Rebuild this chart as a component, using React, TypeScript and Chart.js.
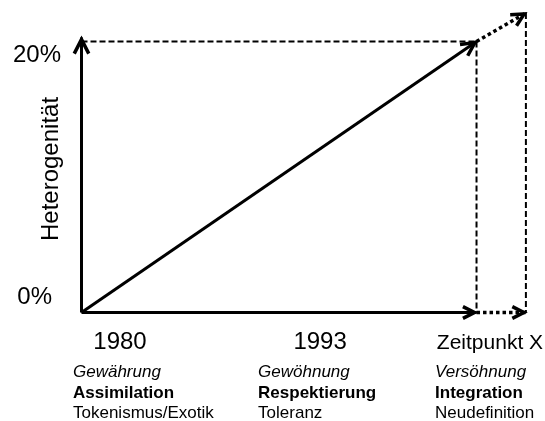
import React, { useEffect, useRef } from "react";
import { Chart, registerables } from "chart.js";

Chart.register(...registerables);

// ---- data ----
const yTickValues = [0, 20];
const yTickLabels = ["0%", "20%"];
const yAxisTitle = "Heterogenität";
const timeLabels = ["1980", "1993", "Zeitpunkt X"];
const phaseItalic = ["Gewährung", "Gewöhnung", "Versöhnung"];
const phaseBold = ["Assimilation", "Respektierung", "Integration"];
const phaseNormal = ["Tokenismus/Exotik", "Toleranz", "Neudefinition"];

// time axis (0 = origin, 1 = Zeitpunkt X, 1.125 = beyond)
const axisX = [0, 1];
const axisY = [0, 20.3];
const trendX = [0, 1];
const trendY = [0, 20];
const futureX = [1, 1.125];
const futureY = [20, 22.1];

// ---- layout (positions only) ----
const FONT = "'Liberation Sans', Arial, sans-serif";
const timeLabelX = [0.0975, 0.604, 1.034];
const timeLabelSize = [24, 24, 21];
const phaseLeftX = [-0.0215, 0.447, 0.895];

const pts = (xs: number[], ys: number[]) => xs.map((x, i) => ({ x, y: ys[i] }));

const arrowPlugin = {
  id: "arrows",
  afterDatasetsDraw(chart: any) {
    const ctx = chart.ctx;
    chart.data.datasets.forEach((ds: any, i: number) => {
      if (!ds.arrow) return;
      const meta = chart.getDatasetMeta(i);
      const d = meta.data;
      const a = d[d.length - 2];
      const b = d[d.length - 1];
      const ang = Math.atan2(b.y - a.y, b.x - a.x);
      const L = ds.arrowLen || 16;
      const spread = (27 * Math.PI) / 180;
      ctx.save();
      ctx.strokeStyle = "#000";
      ctx.lineWidth = 3.5;
      ctx.setLineDash([]);
      ctx.lineJoin = "miter";
      ctx.lineCap = "butt";
      const tipX = b.x - Math.cos(ang) * 2;
      const tipY = b.y - Math.sin(ang) * 2;
      ctx.beginPath();
      ctx.moveTo(tipX - L * Math.cos(ang - spread), tipY - L * Math.sin(ang - spread));
      ctx.lineTo(tipX, tipY);
      ctx.lineTo(tipX - L * Math.cos(ang + spread), tipY - L * Math.sin(ang + spread));
      ctx.stroke();
      ctx.restore();
    });
  },
  afterDraw(chart: any) {
    const ctx = chart.ctx;
    const xs = chart.scales.x;
    const ys = chart.scales.y;
    ctx.save();
    ctx.fillStyle = "#000";
    // y tick labels
    ctx.font = `24px ${FONT}`;
    ctx.textBaseline = "alphabetic";
    ctx.textAlign = "right";
    const tickRight = [52, 61];
    const tickBaseOffset = [-9, 21];
    yTickValues.forEach((v, i) => {
      ctx.fillText(yTickLabels[i], tickRight[i], ys.getPixelForValue(v) + tickBaseOffset[i]);
    });
    // y axis title
    ctx.save();
    ctx.translate(58, (ys.getPixelForValue(0) + ys.getPixelForValue(20)) / 2 - 8);
    ctx.rotate(-Math.PI / 2);
    ctx.textAlign = "center";
    ctx.fillText(yAxisTitle, 0, 0);
    ctx.restore();
    // time labels
    const base0 = ys.getPixelForValue(0);
    ctx.textAlign = "center";
    timeLabels.forEach((t, i) => {
      ctx.font = `${timeLabelSize[i]}px ${FONT}`;
      ctx.fillText(t, xs.getPixelForValue(timeLabelX[i]), base0 + 36);
    });
    // phase descriptions
    ctx.textAlign = "left";
    phaseItalic.forEach((t, i) => {
      const x = xs.getPixelForValue(phaseLeftX[i]);
      ctx.font = `italic 17px ${FONT}`;
      ctx.fillText(t, x, base0 + 64.5);
      ctx.font = `bold 17px ${FONT}`;
      ctx.fillText(phaseBold[i], x, base0 + 85);
      ctx.font = `17px ${FONT}`;
      ctx.fillText(phaseNormal[i], x, base0 + 105.5);
    });
    ctx.restore();
  },
};

export default function App() {
  const ref = useRef<HTMLCanvasElement | null>(null);
  useEffect(() => {
    if (!ref.current) return;
    const solid = { borderColor: "#000", borderWidth: 3, borderDash: [] as number[] };
    const dashed = { borderColor: "#000", borderWidth: 2, borderDash: [6, 3] };
    const dotted = { borderColor: "#000", borderWidth: 3.5, borderDash: [3.5, 3] };
    const common = { showLine: true, pointRadius: 0, fill: false, tension: 0, clip: false as any };
    const chart = new Chart(ref.current, {
      type: "scatter",
      data: {
        datasets: [
          { ...common, ...dashed, data: pts([trendX[0], trendX[1]], [trendY[1], trendY[1]]) },
          { ...common, ...dashed, data: pts([trendX[1], trendX[1]], [trendY[1], 0]) },
          { ...common, ...dashed, data: pts([futureX[1], futureX[1]], [futureY[1], 0]) },
          { ...common, ...dotted, arrow: true, arrowLen: 13, data: pts(futureX, [0, 0]) },
          { ...common, ...dotted, arrow: true, arrowLen: 14, data: pts(futureX, futureY) },
          { ...common, ...solid, arrow: true, data: pts([0, 0], axisY) },
          { ...common, ...solid, arrow: true, arrowLen: 13, data: pts(axisX, [0, 0]) },
          { ...common, ...solid, arrow: true, arrowLen: 15, data: pts(trendX, trendY) },
        ] as any,
      },
      options: {
        animation: false,
        responsive: false,
        events: [],
        layout: { padding: { left: 81.5, right: 19.1, top: 13, bottom: 108.5 } },
        scales: {
          x: { type: "linear", display: false, min: 0, max: 1.125 },
          y: { type: "linear", display: false, min: 0, max: 22.1 },
        },
        plugins: { legend: { display: false }, tooltip: { enabled: false } },
      },
      plugins: [arrowPlugin],
    });
    return () => chart.destroy();
  }, []);
  return (
    <div style={{ position: "absolute", left: 0, top: 0, width: 545, height: 421, background: "#fff" }}>
      <canvas ref={ref} width={545} height={421} />
    </div>
  );
}
